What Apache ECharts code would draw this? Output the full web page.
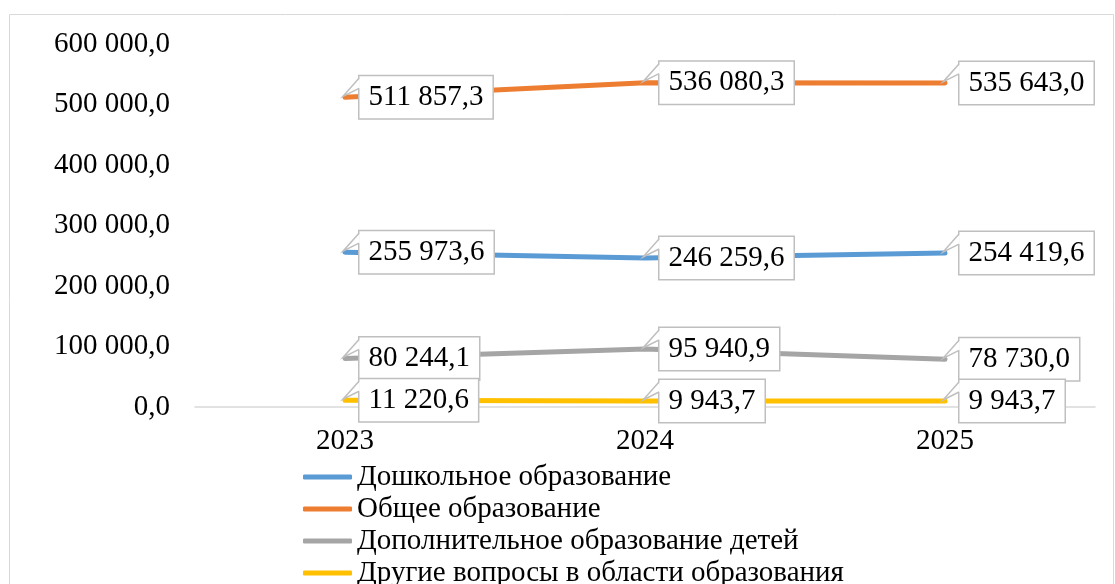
<!DOCTYPE html>
<html>
<head>
<meta charset="utf-8">
<script src="https://cdn.jsdelivr.net/npm/echarts@6/dist/echarts.min.js"></script>
<style>
html,body{margin:0;padding:0;background:#fff;}
#chart{width:1115px;height:584px;}
</style>
</head>
<body>
<div id="chart"></div>
<script>
const categories = ['2023', '2024', '2025'];
const seriesNames = ['Дошкольное образование', 'Общее образование', 'Дополнительное образование детей', 'Другие вопросы в области образования'];
const preschool = [255973.6, 246259.6, 254419.6];
const general = [511857.3, 536080.3, 535643.0];
const additional = [80244.1, 95940.9, 78730.0];
const other = [11220.6, 9943.7, 9943.7];
const colors = ['#5b9bd5', '#ed7d31', '#a5a5a5', '#ffc000'];
const yTicks = {min: 0, max: 600000, interval: 100000};

function fmt(v) {
  const s = v.toFixed(1);
  const parts = s.split('.');
  const intPart = parts[0].replace(/\B(?=(\d{3})+(?!\d))/g, ' ');
  return intPart + ',' + parts[1];
}

const FONT = '"Liberation Serif", "Times New Roman", serif';
const FS = 29;
const LABEL_DIST = 14;
const chart = echarts.init(document.getElementById('chart'));
const datasets = [preschool, general, additional, other];

const series = datasets.map((d, i) => ({
  name: seriesNames[i],
  type: 'line',
  data: d,
  showSymbol: true,
  symbol: 'circle',
  symbolSize: 1,
  lineStyle: {color: colors[i], width: 5, cap: 'round'},
  itemStyle: {color: 'rgba(0,0,0,0)', borderWidth: 0},
  label: {
    show: true,
    position: 'right',
    distance: LABEL_DIST,
    formatter: p => fmt(p.value),
    fontFamily: FONT,
    fontSize: FS,
    lineHeight: 30,
    color: '#000',
    backgroundColor: '#fff',
    borderColor: '#bfbfbf',
    borderWidth: 1.5,
    padding: [6, 9, 6, 9]
  },
  emphasis: {disabled: true},
  z: 2 + i
}));

// callout pointers (built from the same data, placed through the axes)
const pointerData = [];
datasets.forEach(d => d.forEach((v, idx) => pointerData.push([idx, v])));
series.push({
  type: 'custom',
  name: 'pointers',
  coordinateSystem: 'cartesian2d',
  data: pointerData,
  encode: {x: 0, y: 1},
  silent: true,
  z: 10,
  renderItem: function (params, api) {
    const p = api.coord([api.value(0), api.value(1)]);
    const x = p[0], y = p[1];
    const bx = x + LABEL_DIST;
    return {
      type: 'group',
      children: [
        {type: 'polygon', shape: {points: [[x - 2, y - 1], [bx + 0.8, y - 19], [bx + 0.8, y - 9]]},
         style: {fill: '#fff', stroke: null}},
        {type: 'polyline', shape: {points: [[bx, y - 19], [x - 2, y - 1], [bx, y - 9]]},
         style: {fill: null, stroke: '#bfbfbf', lineWidth: 1.5}}
      ]
    };
  }
});

chart.setOption({
  animation: false,
  backgroundColor: '#fff',
  graphic: [{
    type: 'rect',
    shape: {x: 9.5, y: 14.5, width: 1104, height: 600},
    style: {fill: 'none', stroke: '#d9d9d9', lineWidth: 1},
    silent: true
  }],
  grid: {left: 195, right: 20, top: 44, bottom: 177},
  legend: {
    orient: 'vertical',
    left: 298,
    top: 456,
    height: 300,
    itemWidth: 49,
    itemHeight: 5,
    itemGap: 0,
    icon: 'roundRect',
    textStyle: {fontFamily: FONT, fontSize: FS, color: '#000', lineHeight: 32},
    data: seriesNames.map((n, i) => ({name: n, itemStyle: {color: colors[i], opacity: 1}}))
  },
  xAxis: {
    type: 'category',
    data: categories,
    boundaryGap: true,
    axisTick: {show: false},
    axisLine: {lineStyle: {color: '#d9d9d9', width: 1.5}},
    axisLabel: {fontFamily: FONT, fontSize: FS, color: '#000', margin: 20}
  },
  yAxis: {
    type: 'value',
    min: yTicks.min,
    max: yTicks.max,
    interval: yTicks.interval,
    splitLine: {show: false},
    axisLine: {show: false},
    axisTick: {show: false},
    axisLabel: {fontFamily: FONT, fontSize: FS, color: '#000', margin: 25, formatter: v => fmt(v)}
  },
  series: series
});
</script>
</body>
</html>
